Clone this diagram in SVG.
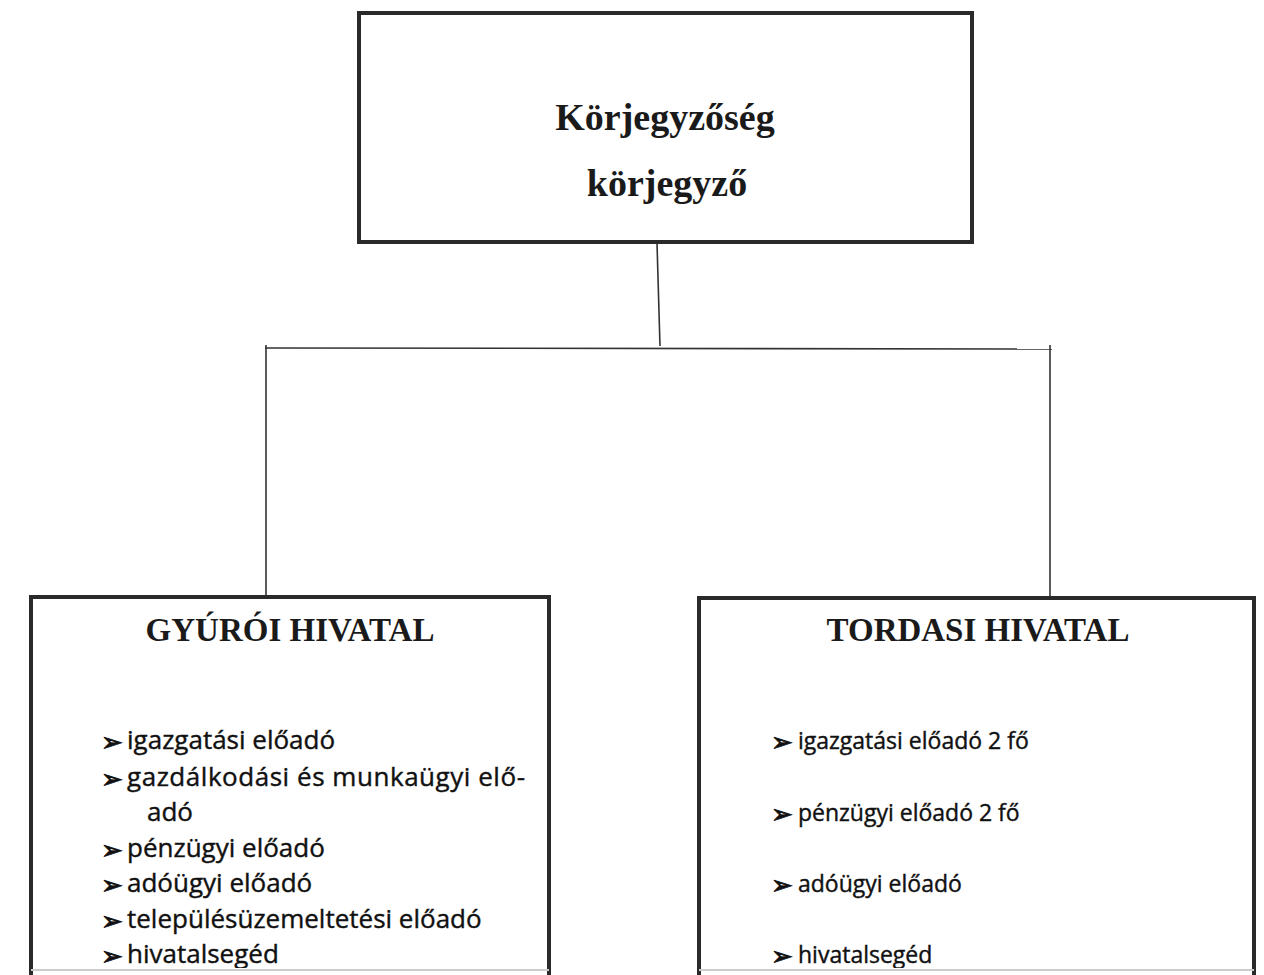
<svg xmlns="http://www.w3.org/2000/svg" width="1264" height="975" viewBox="0 0 1264 975">
<style>
.box{fill:#fff;stroke:#2a2a2a;stroke-width:4}
.ln{stroke:#333;stroke-width:1.6;fill:none}
.t1{font-family:"Liberation Serif",serif;font-weight:bold;font-size:38px;fill:#1a1a1a;text-anchor:middle}
.t2{font-family:"Liberation Serif",serif;font-weight:bold;font-size:33px;fill:#1a1a1a;text-anchor:middle}
.it{font-family:"Open Sans","Noto Sans",sans-serif;font-size:26px;fill:#111;stroke:#111;stroke-width:0.4}
.it2{font-family:"Open Sans","Noto Sans",sans-serif;font-size:23px;fill:#111;stroke:#111;stroke-width:0.4}
.bu{font-family:"DejaVu Sans",sans-serif;font-size:26px;fill:#111;stroke:#111;stroke-width:0.9}
.bu2{font-family:"DejaVu Sans",sans-serif;font-size:26px;fill:#111;stroke:#111;stroke-width:0.9}
</style>
<defs>
<clipPath id="cl"><rect x="0" y="0" width="1264" height="968"/></clipPath>
</defs>
<rect width="1264" height="975" fill="#fff"/>
<g id="connectors">
<line class="ln" x1="657" y1="243" x2="660" y2="346"/>
<line class="ln" x1="265" y1="348" x2="1052" y2="349"/>
<line class="ln" x1="266" y1="345" x2="266" y2="596"/>
<line class="ln" x1="1050" y1="345" x2="1050" y2="597"/>
</g>
<g id="top">
<rect class="box" x="359" y="13" width="613" height="229"/>
<text class="t1" x="665" y="130">Körjegyzőség</text>
<text class="t1" x="667" y="196">körjegyző</text>
</g>
<g id="gyuroi">
<rect class="box" x="31" y="597" width="518" height="420"/>
<line x1="31" y1="970" x2="549" y2="970" stroke="#ccc" stroke-width="2"/>
<text class="t2" x="290" y="641">GYÚRÓI HIVATAL</text>
<g clip-path="url(#cl)">
<text class="bu" x="101" y="751">➢</text><text class="it" x="127" y="749">igazgatási előadó</text>
<text class="bu" x="101" y="788">➢</text><text class="it" x="127" y="786" textLength="398" lengthAdjust="spacing">gazdálkodási és munkaügyi elő-</text>
<text class="it" x="147" y="821">adó</text>
<text class="bu" x="101" y="859">➢</text><text class="it" x="127" y="857">pénzügyi előadó</text>
<text class="bu" x="101" y="894">➢</text><text class="it" x="127" y="892">adóügyi előadó</text>
<text class="bu" x="101" y="930">➢</text><text class="it" x="127" y="928">településüzemeltetési előadó</text>
<text class="bu" x="101" y="965">➢</text><text class="it" x="127" y="963">hivatalsegéd</text>
</g>
</g>
<g id="tordasi">
<rect class="box" x="699" y="598" width="555" height="420"/>
<line x1="699" y1="970" x2="1254" y2="970" stroke="#ccc" stroke-width="2"/>
<text class="t2" x="978" y="641">TORDASI HIVATAL</text>
<g clip-path="url(#cl)">
<text class="bu2" x="771" y="751">➢</text><text class="it2" x="798" y="749">igazgatási előadó 2 fő</text>
<text class="bu2" x="771" y="823">➢</text><text class="it2" x="798" y="821">pénzügyi előadó 2 fő</text>
<text class="bu2" x="771" y="894">➢</text><text class="it2" x="798" y="892">adóügyi előadó</text>
<text class="bu2" x="771" y="965">➢</text><text class="it2" x="798" y="963">hivatalsegéd</text>
</g>
</g>
</svg>
